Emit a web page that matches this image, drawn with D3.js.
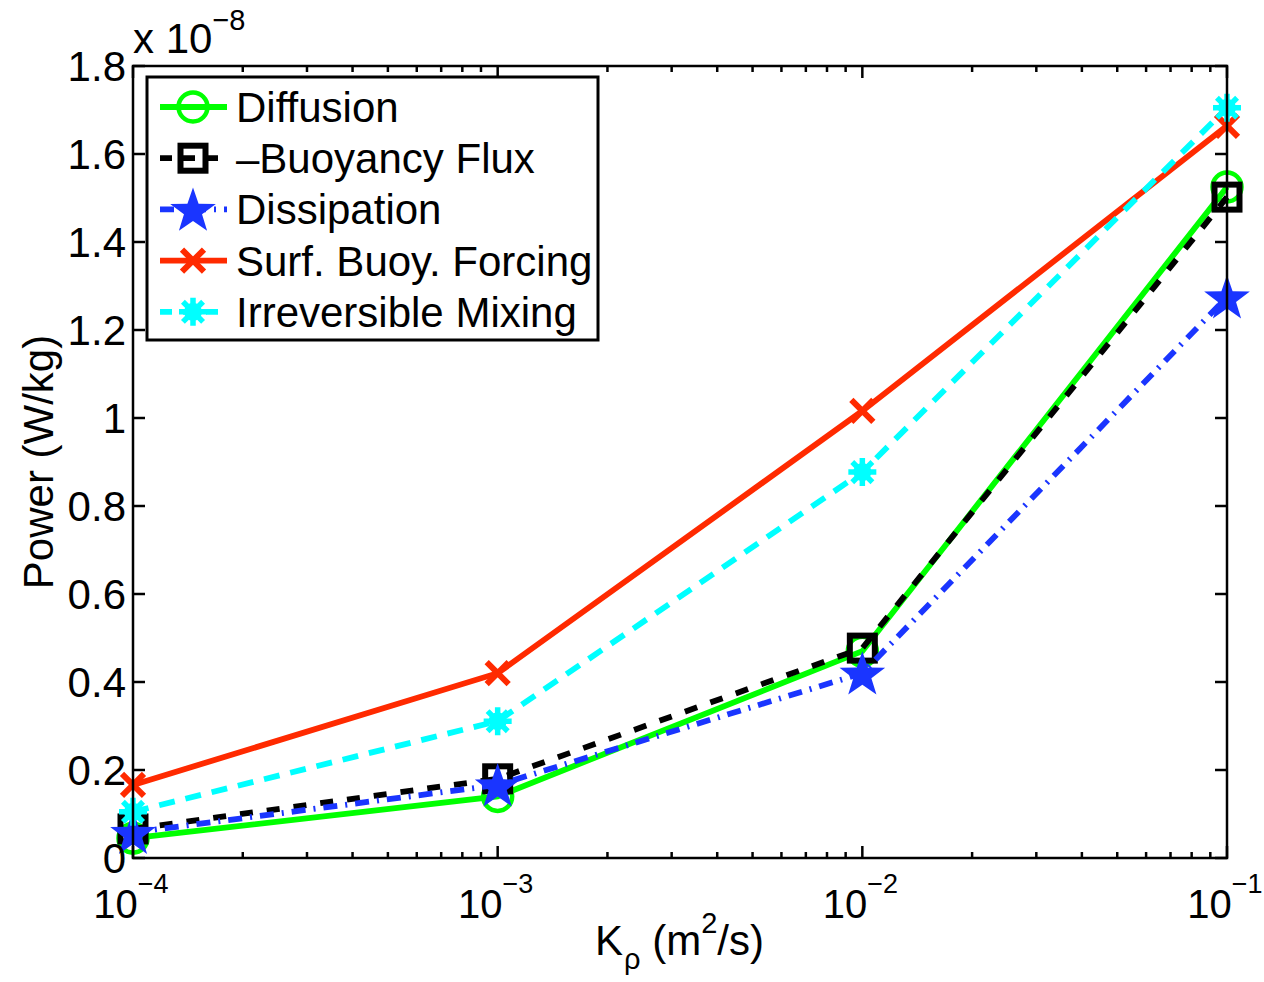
<!DOCTYPE html>
<meta charset="utf-8">
<html>
<head>
<title>Power vs K_rho</title>
<style>
  body { margin: 0; background: #fff; }
  svg { font-family: "Liberation Sans", Arial, Helvetica, sans-serif; }
</style>
</head>
<body>
<div id="container"></div>
<script src="https://d3js.org/d3.v7.min.js"></script>
<script>
// data (power in units of 1e-8 W/kg)
const kRho = [1e-4, 1e-3, 1e-2, 1e-1];
const diffusion = [0.045, 0.140, 0.470, 1.525];
const buoyancyFlux = [0.066, 0.180, 0.477, 1.502];
const dissipation = [0.058, 0.166, 0.420, 1.275];
const surfForcing = [0.166, 0.420, 1.016, 1.664];
const irrevMixing = [0.105, 0.311, 0.877, 1.705];
const yTicks = [0, 0.2, 0.4, 0.6, 0.8, 1, 1.2, 1.4, 1.6, 1.8];
const xTicks = [1e-4, 1e-3, 1e-2, 1e-1];
const xTickExp = ["\u22124", "\u22123", "\u22122", "\u22121"];

const series = [
    { name: "Diffusion", values: diffusion, color: "#00ff00", dash: null, marker: "circle" },
    { name: "\u2013Buoyancy Flux", values: buoyancyFlux, color: "#000000", dash: "13,14", marker: "square" },
    { name: "Dissipation", values: dissipation, color: "#1a35ff", dash: "14,8,2,8", marker: "star" },
    { name: "Surf. Buoy. Forcing", values: surfForcing, color: "#ff2a00", dash: null, marker: "x" },
    { name: "Irreversible Mixing", values: irrevMixing, color: "#00ffff", dash: "16,11", marker: "asterisk" }
];

const width = 1264, height = 982;
const plotLeft = 133, plotRight = 1227, plotTop = 66, plotBottom = 858;
const fontSize = 42, supSize = 29;

const x = d3.scaleLog().domain([1e-4, 1e-1]).range([plotLeft, plotRight]);
const y = d3.scaleLinear().domain([0, 1.8]).range([plotBottom, plotTop]);

const svg = d3.select("#container").append("svg")
    .attr("width", width)
    .attr("height", height);

// draws one marker at (cx, cy)
function drawMarker(g, type, cx, cy, color) {
    if (type === "circle") {
        g.append("circle").attr("cx", cx).attr("cy", cy).attr("r", 14.5)
            .attr("fill", "none").attr("stroke", color).attr("stroke-width", 4.5);
    } else if (type === "square") {
        g.append("rect").attr("x", cx - 12.5).attr("y", cy - 12.5)
            .attr("width", 25).attr("height", 25)
            .attr("fill", "none").attr("stroke", color).attr("stroke-width", 6);
    } else if (type === "star") {
        const pts = [];
        for (let i = 0; i < 10; i++) {
            const r = i % 2 === 0 ? 24 : 9.5;
            const a = -Math.PI / 2 + i * Math.PI / 5;
            pts.push([cx + r * Math.cos(a), cy + r * Math.sin(a) + 2]);
        }
        g.append("path").attr("d", "M" + pts.join("L") + "Z").attr("fill", color);
    } else if (type === "x") {
        const s = 11;
        g.append("path")
            .attr("d", `M${cx - s},${cy - s}L${cx + s},${cy + s}M${cx - s},${cy + s}L${cx + s},${cy - s}`)
            .attr("stroke", color).attr("stroke-width", 6).attr("fill", "none");
    } else if (type === "asterisk") {
        const s = 14, d = s * 0.72;
        g.append("circle").attr("cx", cx).attr("cy", cy).attr("r", 9).attr("fill", color);
        g.append("path")
            .attr("d", `M${cx - s},${cy}L${cx + s},${cy}M${cx},${cy - s}L${cx},${cy + s}` +
                `M${cx - d},${cy - d}L${cx + d},${cy + d}M${cx - d},${cy + d}L${cx + d},${cy - d}`)
            .attr("stroke", color).attr("stroke-width", 5.5).attr("fill", "none");
    }
}

// series lines and markers
const line = d3.line().x((d, i) => x(kRho[i])).y(d => y(d));
series.forEach(s => {
    const g = svg.append("g");
    g.append("path")
        .attr("d", line(s.values))
        .attr("fill", "none")
        .attr("stroke", s.color)
        .attr("stroke-width", 5.8)
        .attr("stroke-dasharray", s.dash);
    s.values.forEach((v, i) => drawMarker(g, s.marker, x(kRho[i]), y(v), s.color));
});

// axes box
const axes = svg.append("g").attr("stroke", "#000").attr("stroke-width", 2.5);
axes.append("rect")
    .attr("x", plotLeft).attr("y", plotTop)
    .attr("width", plotRight - plotLeft).attr("height", plotBottom - plotTop)
    .attr("fill", "none");

// y ticks
yTicks.forEach(t => {
    axes.append("line").attr("x1", plotLeft).attr("x2", plotLeft + 12).attr("y1", y(t)).attr("y2", y(t));
    axes.append("line").attr("x1", plotRight).attr("x2", plotRight - 12).attr("y1", y(t)).attr("y2", y(t));
    svg.append("text")
        .attr("x", plotLeft - 7).attr("y", y(t) + 15)
        .attr("text-anchor", "end")
        .attr("font-size", fontSize)
        .text(d3.format("~g")(t));
});

// x ticks (major + log minors)
xTicks.forEach((t, i) => {
    axes.append("line").attr("x1", x(t)).attr("x2", x(t)).attr("y1", plotBottom).attr("y2", plotBottom - 12);
    axes.append("line").attr("x1", x(t)).attr("x2", x(t)).attr("y1", plotTop).attr("y2", plotTop + 12);
    if (i < xTicks.length - 1) {
        for (let m = 2; m <= 9; m++) {
            const v = t * m;
            axes.append("line").attr("x1", x(v)).attr("x2", x(v)).attr("y1", plotBottom).attr("y2", plotBottom - 6);
            axes.append("line").attr("x1", x(v)).attr("x2", x(v)).attr("y1", plotTop).attr("y2", plotTop + 6);
        }
    }
    const lab = svg.append("text")
        .attr("x", x(t) - 2).attr("y", 918)
        .attr("text-anchor", "middle")
        .attr("font-size", 40);
    lab.append("tspan").text("10");
    lab.append("tspan").attr("font-size", 27).attr("dy", -25).text(xTickExp[i]);
});

// exponent label
const expo = svg.append("text").attr("x", 133).attr("y", 53).attr("font-size", fontSize);
expo.append("tspan").text("x 10");
expo.append("tspan").attr("font-size", supSize).attr("dy", -23).text("\u22128");

// axis labels
const xl = svg.append("text").attr("x", 595).attr("y", 955).attr("font-size", fontSize);
xl.append("tspan").text("K");
xl.append("tspan").attr("font-size", supSize).attr("dx", 1).attr("dy", 14).text("\u03c1");
xl.append("tspan").attr("dy", -14).text(" (m");
xl.append("tspan").attr("font-size", supSize).attr("dy", -22).text("2");
xl.append("tspan").attr("dy", 22).text("/s)");

svg.append("text")
    .attr("transform", "translate(53,462) rotate(-90)")
    .attr("text-anchor", "middle")
    .attr("font-size", fontSize)
    .text("Power (W/kg)");

// legend
const legend = svg.append("g");
legend.append("rect")
    .attr("x", 147).attr("y", 77).attr("width", 451).attr("height", 263)
    .attr("fill", "#fff").attr("stroke", "#000").attr("stroke-width", 3);
series.forEach((s, i) => {
    const ly = 107 + i * 51.2;
    const g = legend.append("g");
    g.append("line")
        .attr("x1", 160).attr("x2", 227).attr("y1", ly).attr("y2", ly)
        .attr("stroke", s.color).attr("stroke-width", 5.8)
        .attr("stroke-dasharray", s.dash === null ? null : (s.marker === "star" ? "14,8,2,8" : "12,11"));
    drawMarker(g, s.marker, 193, ly, s.color);
    g.append("text")
        .attr("x", 236).attr("y", ly + 15)
        .attr("font-size", fontSize)
        .text(s.name);
});
</script>
</body>
</html>
